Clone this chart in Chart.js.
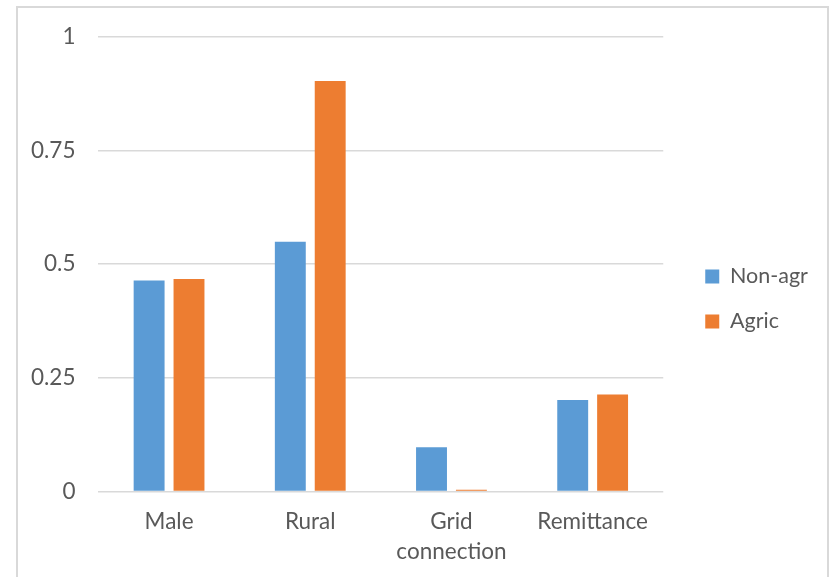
<!DOCTYPE html>
<html>
<head>
<meta charset="utf-8">
<script src="https://cdn.jsdelivr.net/npm/chart.js@4/dist/chart.umd.min.js"></script>
<style>
  html, body { margin: 0; padding: 0; background: #fff; }
  #wrap { position: relative; width: 832px; height: 577px; }
  #frame { position: absolute; left: 16px; top: 6px; width: 813px; height: 600px;
           border: 2px solid #d9d9d9; box-sizing: border-box; }
  canvas { position: absolute; left: 0; top: 0; }
</style>
</head>
<body>
<div id="wrap">
  <div id="frame"></div>
  <canvas id="chart" width="832" height="577"></canvas>
</div>
<script>
// Shares by household characteristic
const categories = ['Male', 'Rural', ['Grid', 'connection'], 'Remittance'];
const nonAgr = [0.464, 0.549, 0.097, 0.201];
const agric = [0.467, 0.902, 0.004, 0.213];
const yTicks = [0, 0.25, 0.5, 0.75, 1];

const FONT = 'Lato, "Open Sans", sans-serif';
const FONT_SIZE = 22.5;
const TEXT = '#595959';
const GRID = '#d9d9d9';

new Chart(document.getElementById('chart'), {
  type: 'bar',
  data: {
    labels: categories,
    datasets: [
      { label: 'Non-agr', data: nonAgr, backgroundColor: '#5B9BD5' },
      { label: 'Agric', data: agric, backgroundColor: '#ED7D31' }
    ]
  },
  options: {
    responsive: false,
    animation: false,
    devicePixelRatio: 1,
    categoryPercentage: 0.565,
    barPercentage: 0.775,
    layout: { padding: { left: 8, right: 15.5, top: 24, bottom: 3 } },
    plugins: {
      tooltip: { enabled: false },
      legend: {
        position: 'right',
        labels: {
          font: { family: FONT, size: 21.5 },
          color: TEXT,
          boxWidth: 14,
          boxHeight: 14,
          padding: 23.5
        }
      }
    },
    scales: {
      x: {
        grid: { display: false },
        border: { display: false },
        ticks: {
          font: { family: FONT, size: FONT_SIZE, lineHeight: 1.3 },
          color: TEXT,
          padding: 8,
          maxRotation: 0
        }
      },
      y: {
        min: 0,
        max: 1,
        afterBuildTicks: (axis) => { axis.ticks = yTicks.map(v => ({ value: v })); },
        grid: { color: GRID, lineWidth: 1.5, drawTicks: false },
        border: { display: false },
        ticks: {
          font: { family: FONT, size: FONT_SIZE },
          color: TEXT,
          padding: 23,
          callback: (v) => String(v)
        }
      },
      // empty spacer between the plot and the legend
      gap: {
        position: 'right',
        grid: { display: false },
        border: { display: false },
        ticks: { display: false },
        afterFit: (axis) => { axis.width = 18.5; }
      }
    }
  }
});
</script>
</body>
</html>
